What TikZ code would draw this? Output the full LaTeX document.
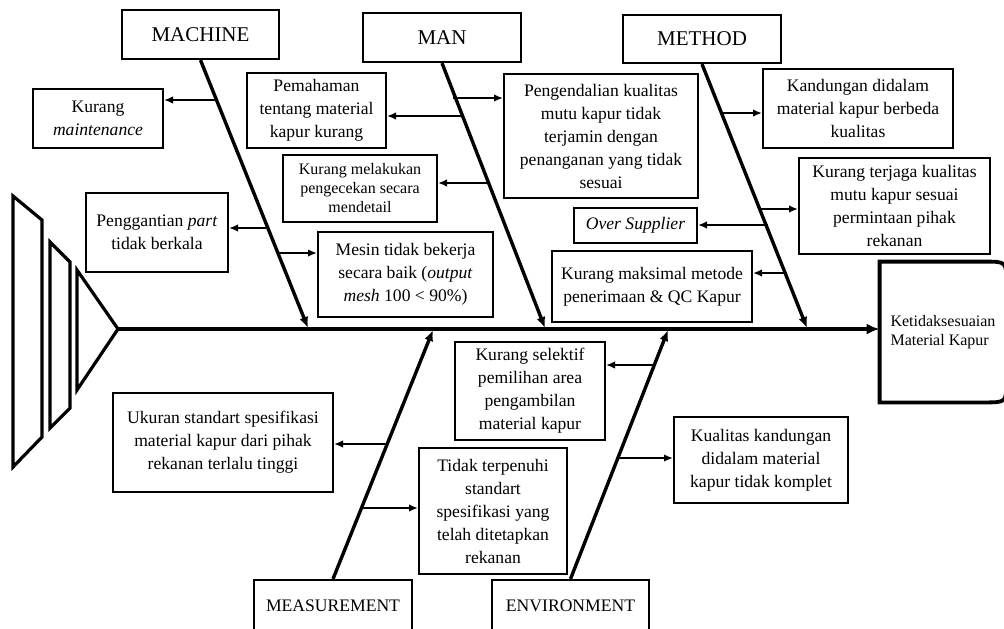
\documentclass[tikz,border=0pt]{standalone}
\usepackage{fontspec}
\setmainfont{Liberation Serif}
\usetikzlibrary{arrows.meta}

\begin{document}
\begin{tikzpicture}[
  x=0.5pt,y=-0.5pt,
  cat/.style={draw,line width=1.1pt,align=center,inner sep=0pt,font=\fontsize{10.5}{12.5}\selectfont},
  catlow/.style={cat,font=\fontsize{8.8}{11}\selectfont},
  cause/.style={draw,line width=1pt,align=center,inner sep=0pt,font=\fontsize{8.8}{11.5}\selectfont},
  causesmall/.style={cause,font=\fontsize{8}{9.5}\selectfont},
  bone/.style={-{Latex[length=5.5pt,width=4.5pt]},line width=1.7pt},
  branch/.style={-{Latex[length=4.5pt,width=3.8pt]},line width=1.2pt},
  spine/.style={-{Latex[length=6.5pt,width=5.5pt]},line width=2pt}
]
\useasboundingbox (0,0) rectangle (1004,628);
\clip (0,0) rectangle (1004,628);

\draw[line width=1.6pt] (13,196) -- (42,220) -- (42,437) -- (13,467) -- cycle;
\draw[line width=1.6pt] (50,242) -- (70,262) -- (70,408) -- (50,428) -- cycle;
\coordinate (tail) at (118,329);
\draw[line width=1.6pt] (77,270) -- (tail) -- (77,390) -- cycle;

\node[align=left,inner sep=0pt,minimum width=63pt,minimum height=70pt,font=\fontsize{8}{9.5}\selectfont] (head) at (943,332) {Ketidaksesuaian\\Material Kapur};
\draw[line width=1.9pt] (head.south west) -- (head.north west) -- ([xshift=-11pt]head.north east) .. controls (head.north east) .. ([yshift=-11pt]head.north east) -- ([yshift=11pt]head.south east) .. controls (head.south east) .. ([xshift=-11pt]head.south east) -- cycle;
\draw[spine] (tail) -- (tail -| head.west);

\node[cat,minimum width=78.5pt,minimum height=24.5pt] (mach) at (200.5,34.5) {MACHINE};
\node[cat,minimum width=79pt,minimum height=24.5pt] (man) at (442,37.5) {MAN};
\node[cat,minimum width=79pt,minimum height=24pt] (meth) at (702,39) {METHOD};
\node[catlow,minimum width=79pt,minimum height=26pt] (meas) at (333,606) {MEASUREMENT};
\node[catlow,minimum width=78.5pt,minimum height=26pt] (env) at (570.5,606) {ENVIRONMENT};

\coordinate (s1) at (308,328);
\coordinate (s2) at (545,328);
\coordinate (s3) at (807,328);
\coordinate (s4) at (433,330);
\coordinate (s5) at (668,330);
\draw[bone] (mach.south) -- (s1);
\draw[bone] (man.south) -- (s2);
\draw[bone] (meth.south) -- (s3);
\draw[bone] (meas.north) -- (s4);
\draw[bone] (env.north) -- (s5);

\node[cause,minimum width=65pt,minimum height=29.5pt] (c1) at (98,118.5) {Kurang\\\textit{maintenance}};
\node[cause,minimum width=71pt,minimum height=39.5pt] (c2) at (157,232.5) {Penggantian \textit{part}\\tidak berkala};
\node[cause,minimum width=87.5pt,minimum height=42.5pt] (c3) at (405.5,274.5) {Mesin tidak bekerja\\secara baik (\textit{output}\\\textit{mesh} 100 < 90\%)};
\coordinate (b1) at (216,100);
\coordinate (b2) at (268,228);
\coordinate (b3) at (278,253);
\draw[branch] (b1) -- (b1 -| c1.east);
\draw[branch] (b2) -- (b2 -| c2.east);
\draw[branch] (b3) -- (b3 -| c3.west);

\node[cause,minimum width=69.5pt,minimum height=37.5pt] (c4) at (316.5,110.5) {Pemahaman\\tentang material\\kapur kurang};
\node[causesmall,minimum width=77pt,minimum height=33.5pt] (c5) at (360,188.5) {Kurang melakukan\\pengecekan secara\\mendetail};
\node[cause,minimum width=97pt,minimum height=62pt] (c6) at (601,136) {Pengendalian kualitas\\mutu kapur tidak\\terjamin dengan\\penanganan yang tidak\\sesuai};
\coordinate (b4) at (462,116);
\coordinate (b5) at (487,183);
\coordinate (b6) at (453,98);
\draw[branch] (b4) -- (b4 -| c4.east);
\draw[branch] (b5) -- (b5 -| c5.east);
\draw[branch] (b6) -- (b6 -| c6.west);

\node[cause,minimum width=61.5pt,minimum height=17.5pt] (c7) at (635.5,225.5) {\textit{Over Supplier}};
\node[cause,minimum width=100pt,minimum height=35.5pt] (c8) at (652,286.5) {Kurang maksimal metode\\penerimaan \& QC Kapur};
\node[cause,minimum width=95pt,minimum height=39.5pt] (c9) at (858,108.5) {Kandungan didalam\\material kapur berbeda\\kualitas};
\node[cause,minimum width=95.5pt,minimum height=48pt] (c10) at (894.5,206) {Kurang terjaga kualitas\\mutu kapur sesuai\\permintaan pihak\\rekanan};
\coordinate (b7) at (768,225);
\coordinate (b8) at (785,273);
\coordinate (b9) at (721,113);
\coordinate (b10) at (759,209);
\draw[branch] (b7) -- (b7 -| c7.east);
\draw[branch] (b8) -- (b8 -| c8.east);
\draw[branch] (b9) -- (b9 -| c9.west);
\draw[branch] (b10) -- (b10 -| c10.west);

\node[cause,minimum width=110pt,minimum height=49.5pt] (c11) at (223,442.5) {Ukuran standart spesifikasi\\material kapur dari pihak\\rekanan terlalu tinggi};
\node[cause,minimum width=74pt,minimum height=63pt] (c12) at (493,511) {Tidak terpenuhi\\standart\\spesifikasi yang\\telah ditetapkan\\rekanan};
\coordinate (b11) at (387,444);
\coordinate (b12) at (362,508);
\draw[branch] (b11) -- (b11 -| c11.east);
\draw[branch] (b12) -- (b12 -| c12.west);

\node[cause,minimum width=75pt,minimum height=49pt] (c13) at (530,391) {Kurang selektif\\pemilihan area\\pengambilan\\material kapur};
\node[cause,minimum width=87pt,minimum height=43pt] (c14) at (761,460) {Kualitas kandungan\\didalam material\\kapur tidak komplet};
\coordinate (b13) at (656,365);
\coordinate (b14) at (619,458);
\draw[branch] (b13) -- (b13 -| c13.east);
\draw[branch] (b14) -- (b14 -| c14.west);
\end{tikzpicture}
\end{document}
